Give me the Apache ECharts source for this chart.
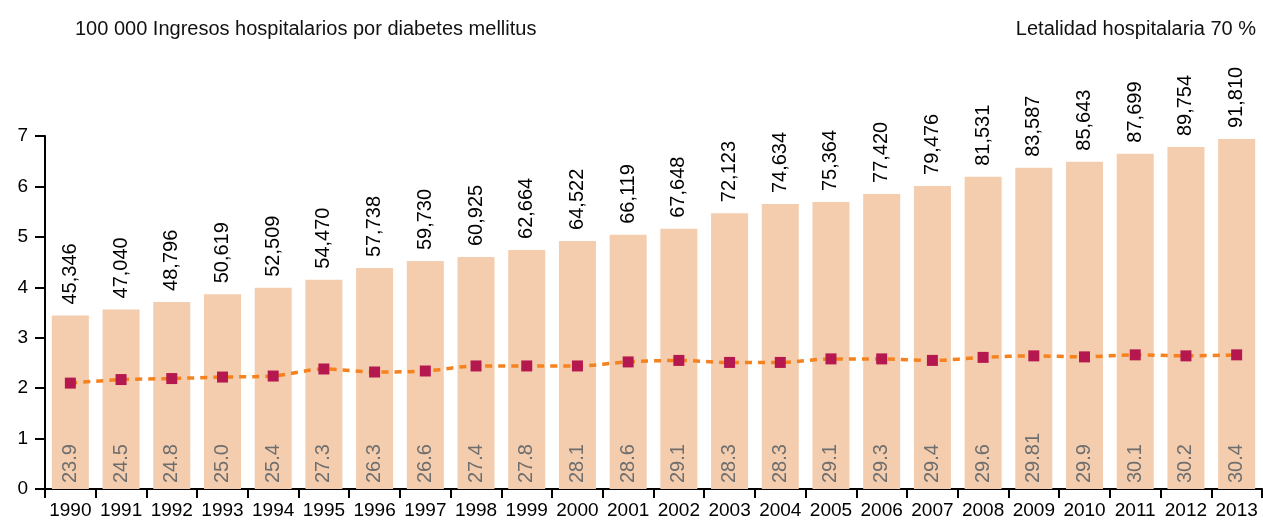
<!DOCTYPE html>
<html>
<head>
<meta charset="utf-8">
<title>Ingresos hospitalarios por diabetes mellitus</title>
<script src="https://cdn.jsdelivr.net/npm/echarts@6/dist/echarts.min.js"></script>
<style>
html,body{margin:0;padding:0;background:#fff}
#chart_main{width:1263px;height:520px}
</style>
</head>
<body>
<div id="chart_main"></div>
<script type="text/javascript">
// datos
var years = ['1990','1991','1992','1993','1994','1995','1996','1997','1998','1999','2000','2001',
	'2002','2003','2004','2005','2006','2007','2008','2009','2010','2011','2012','2013'];
var ingresos = [45346,47040,48796,50619,52509,54470,57738,59730,60925,62664,64522,66119,
	67648,72123,74634,75364,77420,79476,81531,83587,85643,87699,89754,91810];
var tasa = [3.44,3.56,3.71,3.86,3.99,4.15,4.38,4.52,4.60,4.74,4.92,5.04,
	5.16,5.47,5.65,5.69,5.85,6.01,6.19,6.37,6.49,6.65,6.78,6.94];
var letalidad = ['23.9','24.5','24.8','25.0','25.4','27.3','26.3','26.6','27.4','27.8','28.1','28.6',
	'29.1','28.3','28.3','29.1','29.3','29.4','29.6','29.81','29.9','30.1','30.2','30.4'];
var linea = [2.10,2.17,2.19,2.22,2.24,2.38,2.32,2.34,2.44,2.44,2.44,2.52,
	2.55,2.51,2.51,2.58,2.58,2.55,2.61,2.64,2.62,2.66,2.64,2.66];
var yTicks = [0,1,2,3,4,5,6,7];

var font = '"Liberation Sans", Arial, sans-serif';

function miles(n){
	return String(n).replace(/\B(?=(\d{3})+(?!\d))/g, ',');
}

var myChart = echarts.init(document.getElementById('chart_main'));
var option = {
	animation: false,
	textStyle: {fontFamily: font},
	title: [
		{text: '100 000 Ingresos hospitalarios por diabetes mellitus', left: 70, top: 14,
			textStyle: {fontSize: 20, fontWeight: 'normal', color: '#111', fontFamily: font}},
		{text: 'Letalidad hospitalaria 70 %', right: 2, top: 14,
			textStyle: {fontSize: 20, fontWeight: 'normal', color: '#111', fontFamily: font}}
	],
	grid: {left: 45, right: 1, top: 136, bottom: 31, containLabel: false},
	xAxis: {
		type: 'category',
		data: years,
		axisLine: {lineStyle: {color: '#000', width: 2}},
		axisTick: {show: true, length: 9, lineStyle: {color: '#000', width: 2}},
		axisLabel: {color: '#000', fontSize: 19, margin: 12, interval: 0, fontFamily: font}
	},
	yAxis: {
		type: 'value',
		min: yTicks[0],
		max: yTicks[yTicks.length - 1],
		interval: 1,
		splitLine: {show: false},
		axisLine: {show: true, lineStyle: {color: '#000', width: 2}},
		axisTick: {show: true, length: 10, lineStyle: {color: '#000', width: 2}},
		axisLabel: {color: '#000', fontSize: 19, margin: 17, fontFamily: font}
	},
	series: [
		{
			name: 'Ingresos',
			type: 'bar',
			data: tasa,
			barCategoryGap: '27%',
			itemStyle: {color: '#F4CDAE'},
			label: {
				show: true,
				position: 'top',
				distance: 11,
				rotate: 90,
				align: 'left',
				verticalAlign: 'middle',
				fontSize: 20,
				color: '#000',
				fontFamily: font,
				formatter: function(p){ return miles(ingresos[p.dataIndex]); }
			}
		},
		{
			name: 'Letalidad',
			type: 'bar',
			data: tasa,
			barGap: '-100%',
			barCategoryGap: '27%',
			itemStyle: {color: 'rgba(0,0,0,0)'},
			label: {
				show: true,
				position: 'insideBottom',
				distance: 6,
				rotate: 90,
				align: 'left',
				verticalAlign: 'middle',
				fontSize: 20,
				color: '#6e6e6e',
				fontFamily: font,
				formatter: function(p){ return letalidad[p.dataIndex]; }
			}
		},
		{
			name: 'Tasa',
			type: 'line',
			data: linea,
			smooth: 0.3,
			symbol: 'rect',
			symbolSize: 11,
			itemStyle: {color: '#B5174F'},
			lineStyle: {color: '#F5821F', width: 3.5, type: [7, 6]},
			z: 5
		}
	]
};
myChart.setOption(option);
</script>
</body>
</html>
